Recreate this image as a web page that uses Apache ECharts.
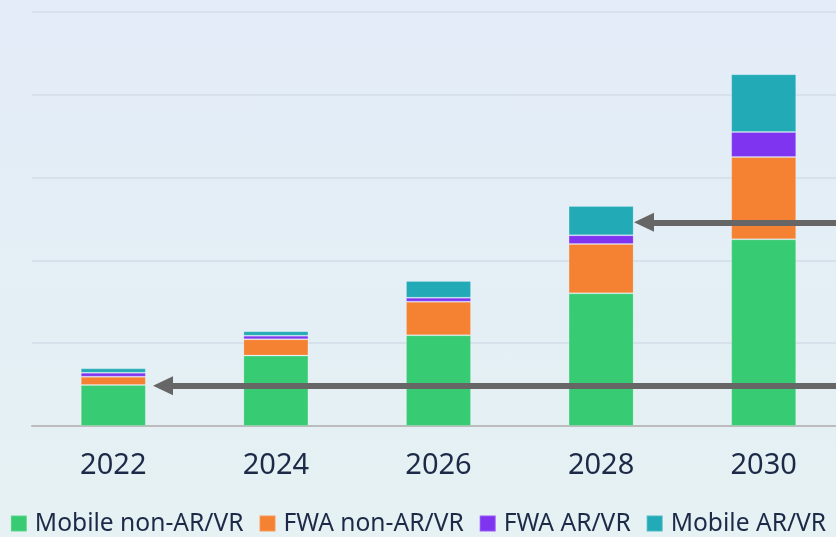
<!DOCTYPE html>
<html>
<head>
<meta charset="utf-8">
<script src="https://cdn.jsdelivr.net/npm/echarts@6/dist/echarts.min.js"></script>
<style>
html,body{margin:0;padding:0;}
#c{width:836px;height:537px;background:linear-gradient(180deg,#e3ecf8 0%,#e4eff5 60%,#e6f1f3 100%);}
</style>
</head>
<body>
<div id="c"></div>
<script>
const categories = ['2022', '2024', '2026', '2028', '2030'];
const mobileNonARVR = [49.5, 85, 109.6, 160.3, 225.5];
const fwaNonARVR = [10, 19.8, 40.6, 59.5, 99.4];
const fwaARVR = [4.8, 4.3, 4.8, 10.5, 30.2];
const mobileARVR = [5.3, 5.3, 20.2, 35.4, 69.7];
const arrowLevels = [48.7, 246];
const arrowTipX = [153, 634];

const chart = echarts.init(document.getElementById('c'), null, {renderer: 'canvas'});
const font = '"Noto Sans", sans-serif';
const barBase = {
  type: 'bar', stack: 'total', barWidth: '40%',
  itemStyle: {borderColor: 'rgba(255,255,255,0.18)', borderWidth: 1},
  emphasis: {disabled: true}
};
chart.setOption({
  backgroundColor: 'transparent',
  animation: false,
  grid: {left: 32, width: 813, top: 12, bottom: 111, containLabel: false, outerBoundsMode: 'none'},
  legend: {
    bottom: 1, left: 'center', padding: 0, icon: 'rect', itemWidth: 16, itemHeight: 16, itemGap: 15,
    textStyle: {fontFamily: font, fontSize: 24.6, color: '#1c2a48', padding: [0, 0, 0, 3]},
    data: ['Mobile non-AR/VR', 'FWA non-AR/VR', 'FWA AR/VR', 'Mobile AR/VR']
  },
  xAxis: {
    type: 'category', data: categories,
    axisLine: {lineStyle: {color: '#bcbcbc', width: 2}},
    axisTick: {show: false},
    axisLabel: {fontFamily: font, fontSize: 29, color: '#1c2a48', margin: 25}
  },
  yAxis: {
    type: 'value', min: 0, max: 500, interval: 100,
    axisLabel: {show: false}, axisLine: {show: false}, axisTick: {show: false},
    splitLine: {lineStyle: {color: '#d3dde7', width: 1.5}}
  },
  series: [
    Object.assign({}, barBase, {
      name: 'Mobile non-AR/VR', data: mobileNonARVR, itemStyle: Object.assign({}, barBase.itemStyle, {color: '#37cb73'}),
      markLine: {
        silent: true, symbol: ['triangle', 'none'], symbolSize: [19, 20],
        label: {show: false},
        lineStyle: {color: '#666666', width: 6, type: 'solid'},
        emphasis: {disabled: true},
        data: arrowLevels.map((v, i) => [
          {coord: [0, v], x: arrowTipX[i] + 10},
          {coord: [4, v], x: 840}
        ])
      }
    }),
    Object.assign({}, barBase, {name: 'FWA non-AR/VR', data: fwaNonARVR, itemStyle: Object.assign({}, barBase.itemStyle, {color: '#f58232'})}),
    Object.assign({}, barBase, {name: 'FWA AR/VR', data: fwaARVR, itemStyle: Object.assign({}, barBase.itemStyle, {color: '#7f35f0'})}),
    Object.assign({}, barBase, {name: 'Mobile AR/VR', data: mobileARVR, itemStyle: Object.assign({}, barBase.itemStyle, {color: '#22abb6'})})
  ]
});
</script>
</body>
</html>
